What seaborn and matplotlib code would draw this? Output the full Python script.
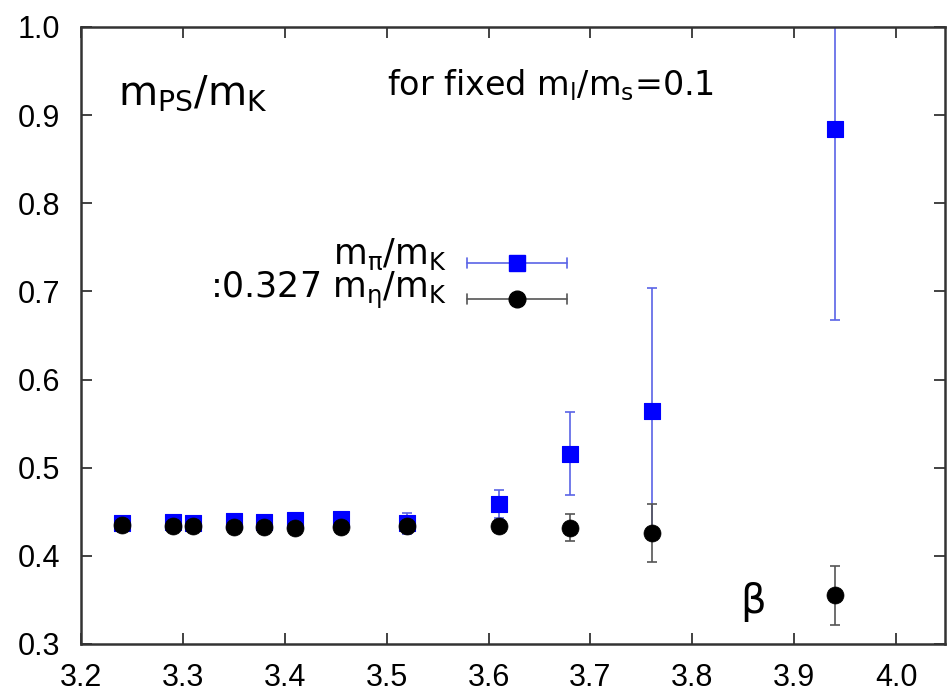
import matplotlib
matplotlib.use("Agg")
import matplotlib.pyplot as plt
import seaborn as sns
import pandas as pd

# ---- data ----
beta_pi = [3.24, 3.29, 3.31, 3.35, 3.38, 3.41, 3.455, 3.52, 3.61, 3.68, 3.76, 3.94]
mpi_mk = [0.437, 0.438, 0.437, 0.440, 0.438, 0.441, 0.442, 0.437, 0.459, 0.516, 0.564, 0.884]
mpi_err = [0.004, 0.004, 0.004, 0.004, 0.004, 0.004, 0.004, 0.012, 0.016, 0.047, 0.140, 0.217]

beta_eta = [3.24, 3.29, 3.31, 3.35, 3.38, 3.41, 3.455, 3.52, 3.61, 3.68, 3.76, 3.94]
meta_mk = [0.435, 0.434, 0.434, 0.433, 0.433, 0.432, 0.433, 0.434, 0.434, 0.432, 0.426, 0.355]
meta_err = [0.003, 0.003, 0.003, 0.003, 0.003, 0.003, 0.003, 0.003, 0.003, 0.015, 0.033, 0.034]

xticks = [3.2, 3.3, 3.4, 3.5, 3.6, 3.7, 3.8, 3.9, 4.0]
yticks = [0.3, 0.4, 0.5, 0.6, 0.7, 0.8, 0.9, 1.0]

sns.set_theme(style="ticks")
plt.rcParams['font.family'] = ['Liberation Sans', 'DejaVu Sans']
plt.rcParams['mathtext.fontset'] = 'dejavusans'
plt.rcParams['text.color'] = 'black'

fig = plt.figure(figsize=(9.5, 6.98), dpi=100)
ax = fig.add_axes([0.085, 0.0774, 0.91, 0.884])

BLUE = "#0000ff"
BLUE_ERR = "#5a64e6"
BLACK = "#000000"
BLACK_ERR = "#555555"

ax.errorbar(beta_pi, mpi_mk, yerr=mpi_err, fmt='none', ecolor=BLUE_ERR,
            elinewidth=1.2, capsize=3.5, capthick=1.2, zorder=2)
ax.errorbar(beta_eta, meta_mk, yerr=meta_err, fmt='none', ecolor=BLACK_ERR,
            elinewidth=1.2, capsize=3.5, capthick=1.2, zorder=3)

df_pi = pd.DataFrame({"beta": beta_pi, "r": mpi_mk})
df_eta = pd.DataFrame({"beta": beta_eta, "r": meta_mk})
sns.scatterplot(data=df_pi, x="beta", y="r", marker='s', s=140, color=BLUE,
                edgecolor=BLUE, linewidth=0.8, ax=ax, zorder=4)
sns.scatterplot(data=df_eta, x="beta", y="r", marker='o', s=150, color=BLACK,
                edgecolor=BLACK, linewidth=0.5, ax=ax, zorder=5)

ax.set_xlim(3.2, 4.048)
ax.set_ylim(0.3, 1.0)
ax.set_xticks(xticks)
ax.set_xticklabels([f"{v:.1f}" for v in xticks])
ax.set_yticks(yticks)
ax.set_yticklabels([f"{v:.1f}" for v in yticks])
ax.set_xlabel("")
ax.set_ylabel("")
ax.tick_params(direction='in', length=8, width=1.2, top=True, right=True,
               labelsize=22, colors='#222222', labelcolor='black')
ax.tick_params(axis='x', pad=14)
ax.tick_params(axis='y', pad=15)
for sp in ax.spines.values():
    sp.set_linewidth(1.8)
    sp.set_color('#333333')

DV = ['DejaVu Sans']
# annotations
ax.text(0.043, 0.874, r"m$_{\mathrm{PS}}$/m$_{\mathrm{K}}$", transform=ax.transAxes,
        fontsize=29, ha='left', va='baseline', family=DV, color='black')
ax.text(0.354, 0.890, r"for fixed m$_{\mathrm{l}}$/m$_{\mathrm{s}}$=0.1", transform=ax.transAxes,
        fontsize=24, ha='left', va='baseline', family=DV, color='black')
ax.text(0.778, 0.068, "β", transform=ax.transAxes, fontsize=29, ha='center',
        va='center', family=DV, color='black')

# legend (manual)
entries = [
    (0.6175, 0.616, r"m$_{\mathrm{π}}$/m$_{\mathrm{K}}$", BLUE, BLUE_ERR, 's', 11.5),
    (0.559, 0.561, r":0.327 m$_{\mathrm{η}}$/m$_{\mathrm{K}}$", BLACK, BLACK_ERR, 'o', 12),
]
for yy, ty, lab, col, ecol, mk, ms in entries:
    ax.plot([0.447, 0.5625], [yy, yy], color=ecol, lw=1.2, transform=ax.transAxes, zorder=6)
    for xe in (0.447, 0.5625):
        ax.plot([xe, xe], [yy - 0.008, yy + 0.008], color=ecol, lw=1.2,
                transform=ax.transAxes, zorder=6)
    ax.plot([0.505], [yy], marker=mk, ms=ms, color=col, transform=ax.transAxes,
            zorder=7, linestyle='none')
    ax.text(0.4236, ty, lab, transform=ax.transAxes, fontsize=25,
            ha='right', va='baseline', family=DV, color='black')

fig.savefig("out.png", dpi=100)
